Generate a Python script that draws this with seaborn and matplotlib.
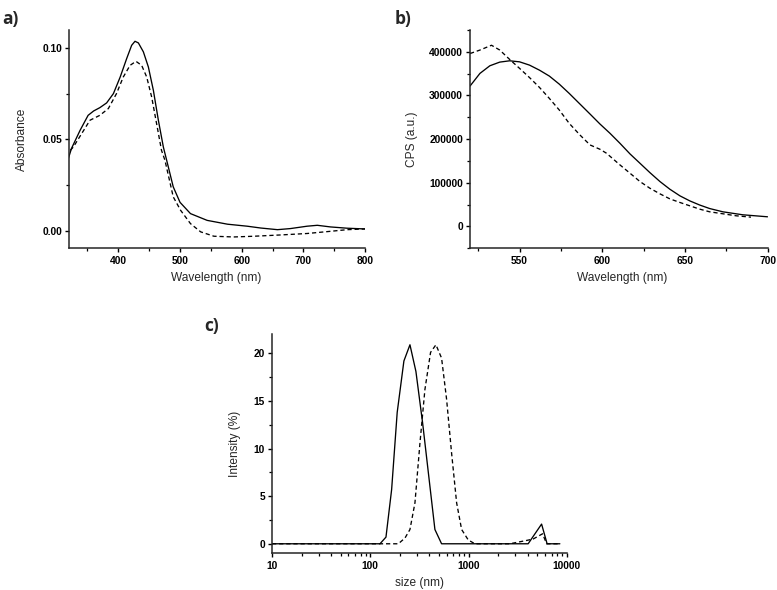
import numpy as np
import pandas as pd
import matplotlib
matplotlib.use("Agg")
import matplotlib.pyplot as plt
import matplotlib.ticker as mticker
import seaborn as sns

# ---------------- data ----------------
# a) UV-Vis absorbance
abs_wl_solid = [318, 324, 338, 351, 360, 370, 381, 392, 403, 413.5, 421.6, 427, 432.5, 440.6,
                448.7, 456.8, 464.9, 473, 478.4, 489, 500, 517, 544, 577, 609, 631, 658, 679,
                706, 722.6, 744, 771, 800]
abs_solid = [0.0385, 0.045, 0.055, 0.0632, 0.0656, 0.0674, 0.070, 0.0751, 0.0842, 0.0943,
             0.1016, 0.1038, 0.1029, 0.098, 0.0897, 0.0769, 0.0605, 0.0458, 0.0385, 0.024,
             0.0155, 0.0093, 0.0056, 0.0035, 0.0024, 0.0014, 0.0005, 0.0011, 0.0024, 0.0029,
             0.0020, 0.0013, 0.0009]
abs_wl_dash = [322, 327, 340.6, 354, 370, 383.8, 397, 408, 419, 428.6, 437.8, 446, 454, 462,
               470, 475.6, 489, 501, 517, 533.5, 555, 587, 620, 663, 706, 744, 771, 800]
abs_dash = [0.044, 0.0458, 0.0532, 0.0605, 0.0632, 0.0669, 0.0751, 0.0842, 0.0906, 0.0928,
            0.0906, 0.0842, 0.0733, 0.0587, 0.044, 0.0385, 0.0185, 0.0111, 0.0038, -0.0007,
            -0.0031, -0.0035, -0.0031, -0.0024, -0.0016, -0.0004, 0.0005, 0.0009]

# b) fluorescence emission
em_wl_solid = [520, 526, 532, 538, 544, 550, 556, 562, 568, 574, 580, 586.5, 592.6, 598.6, 604.7,
               610.7, 616.8, 622.8, 628.8, 634.9, 640.9, 647, 653, 659, 665, 673, 685, 700]
em_solid = [321500, 350500, 368000, 376400, 379400, 377000, 369500, 358000, 344400, 326000,
            304800, 280400, 257500, 234700, 213300, 190500, 166100, 144800, 123400, 102900,
            85300, 70100, 58500, 49000, 41000, 33500, 26700, 22100]
em_wl_dash = [520, 526, 533, 538, 544, 550, 556, 562, 568, 574, 580, 586.5, 592.6, 598.6, 602.6,
              610.7, 616.8, 622.8, 628.8, 634.9, 640.9, 647, 653, 659, 665, 673, 681, 690]
em_dash = [396000, 404000, 415000, 404000, 382500, 362000, 341000, 318500, 293300, 266700,
           236200, 209500, 186700, 176800, 167600, 141000, 121900, 102900, 87600, 74700,
           63200, 54900, 47200, 39600, 33500, 29000, 24400, 21300]

# c) DLS size distribution
dls_size_solid = [10, 125.6, 144.5, 165, 188, 220, 253.5, 291.5, 341, 398, 455, 532, 4047,
                  5546, 6310, 8510]
dls_solid = [0, 0, 0.7, 5.7, 13.8, 19.2, 20.9, 18.1, 12.7, 6.7, 1.5, 0, 0, 2.07, 0, 0]
dls_size_dash = [10, 193, 225.5, 253.5, 285, 320.6, 360, 411, 466, 532, 598, 673, 757, 851,
                 994, 1161, 2636, 3900, 4550, 5675, 6240, 8510]
dls_dash = [0, 0, 0.6, 1.5, 4.3, 10.6, 16.2, 20.1, 20.9, 19.5, 15.2, 9.5, 4.3, 1.5, 0.4, 0,
            0, 0.35, 0.5, 1.05, 0, 0]

# ---------------- style ----------------
sns.set_style("ticks")
plt.rcParams["font.family"] = ["Liberation Sans", "DejaVu Sans"]
plt.rcParams["axes.linewidth"] = 1.1
plt.rcParams["xtick.major.width"] = 1.0
plt.rcParams["ytick.major.width"] = 1.0
plt.rcParams["xtick.minor.width"] = 0.9
plt.rcParams["ytick.minor.width"] = 0.9
plt.rcParams["xtick.major.size"] = 3.2
plt.rcParams["ytick.major.size"] = 3.2
plt.rcParams["xtick.minor.size"] = 2.0
plt.rcParams["ytick.minor.size"] = 2.0
plt.rcParams["xtick.direction"] = "out"
plt.rcParams["ytick.direction"] = "out"
plt.rcParams["xtick.major.pad"] = 2.5
plt.rcParams["ytick.major.pad"] = 1.8

TICK_FS = 7.4
LABEL_FS = 8.6
LW = 0.95
DASH = (0, (3.2, 2.2))

fig = plt.figure(figsize=(7.77, 5.90), dpi=100)
ax_a = fig.add_axes([0.0888, 0.5792, 0.381, 0.370])
ax_b = fig.add_axes([0.6049, 0.5792, 0.3829, 0.370])
ax_c = fig.add_axes([0.3501, 0.0622, 0.3793, 0.3712])


def draw(ax, x1, y1, x2, y2):
    sns.lineplot(x=x1, y=y1, ax=ax, color="black", linewidth=LW, sort=False)
    sns.lineplot(x=x2, y=y2, ax=ax, color="black", linewidth=LW, linestyle=DASH, sort=False)


# a)
draw(ax_a, abs_wl_solid, abs_solid, abs_wl_dash, abs_dash)
ax_a.set_xlim(320, 800)
ax_a.set_ylim(-0.0097, 0.110)
ax_a.xaxis.set_major_locator(mticker.MultipleLocator(100))
ax_a.xaxis.set_minor_locator(mticker.MultipleLocator(50))
ax_a.yaxis.set_major_locator(mticker.MultipleLocator(0.05))
ax_a.yaxis.set_minor_locator(mticker.MultipleLocator(0.025))
ax_a.yaxis.set_major_formatter(mticker.FormatStrFormatter("%.2f"))
ax_a.set_xlabel("Wavelength (nm)", fontsize=LABEL_FS)
ax_a.set_ylabel("Absorbance", fontsize=LABEL_FS)
ax_a.xaxis.set_label_coords(0.497, -0.138)
ax_a.yaxis.set_label_coords(-0.158, 0.5)

# b)
draw(ax_b, em_wl_solid, em_solid, em_wl_dash, em_dash)
ax_b.set_xlim(520, 700)
ax_b.set_ylim(-50000, 450000)
ax_b.xaxis.set_major_locator(mticker.MultipleLocator(50))
ax_b.xaxis.set_minor_locator(mticker.MultipleLocator(25))
ax_b.yaxis.set_major_locator(mticker.MultipleLocator(100000))
ax_b.yaxis.set_minor_locator(mticker.MultipleLocator(50000))
ax_b.yaxis.set_major_formatter(mticker.FormatStrFormatter("%d"))
ax_b.set_xlabel("Wavelength (nm)", fontsize=LABEL_FS)
ax_b.set_ylabel("CPS (a.u.)", fontsize=LABEL_FS)
ax_b.xaxis.set_label_coords(0.51, -0.138)
ax_b.yaxis.set_label_coords(-0.196, 0.5)

# c)
draw(ax_c, dls_size_solid, dls_solid, dls_size_dash, dls_dash)
ax_c.set_xscale("log")
ax_c.set_xlim(10, 10000)
ax_c.set_ylim(-1, 22)
ax_c.xaxis.set_major_locator(mticker.LogLocator(base=10))
ax_c.xaxis.set_minor_locator(mticker.LogLocator(base=10, subs=np.arange(2, 10)))
ax_c.xaxis.set_minor_formatter(mticker.NullFormatter())
ax_c.xaxis.set_major_formatter(mticker.FuncFormatter(lambda v, p: f"{int(round(v))}"))
ax_c.yaxis.set_major_locator(mticker.MultipleLocator(5))
ax_c.yaxis.set_minor_locator(mticker.MultipleLocator(2.5))
ax_c.set_xlabel("size (nm)", fontsize=LABEL_FS)
ax_c.set_ylabel("Intensity (%)", fontsize=LABEL_FS)
ax_c.xaxis.set_label_coords(0.5, -0.136)
ax_c.yaxis.set_label_coords(-0.1256, 0.5)

for ax in (ax_a, ax_b, ax_c):
    sns.despine(ax=ax)
    ax.tick_params(which="both", labelsize=TICK_FS, colors="black")
    ax.xaxis.label.set_va("center")
    ax.yaxis.label.set_va("center")
    for lab in ax.get_xticklabels() + ax.get_yticklabels():
        lab.set_fontweight("bold")

# panel letters
for (x, y, s) in [(0.003, 0.983, "a)"), (0.508, 0.983, "b)"), (0.263, 0.463, "c)")]:
    fig.text(x, y, s, fontsize=12.5, fontweight="bold", va="top", ha="left",
             family=["Open Sans", "DejaVu Sans"])

fig.savefig("out.png", dpi=100)
